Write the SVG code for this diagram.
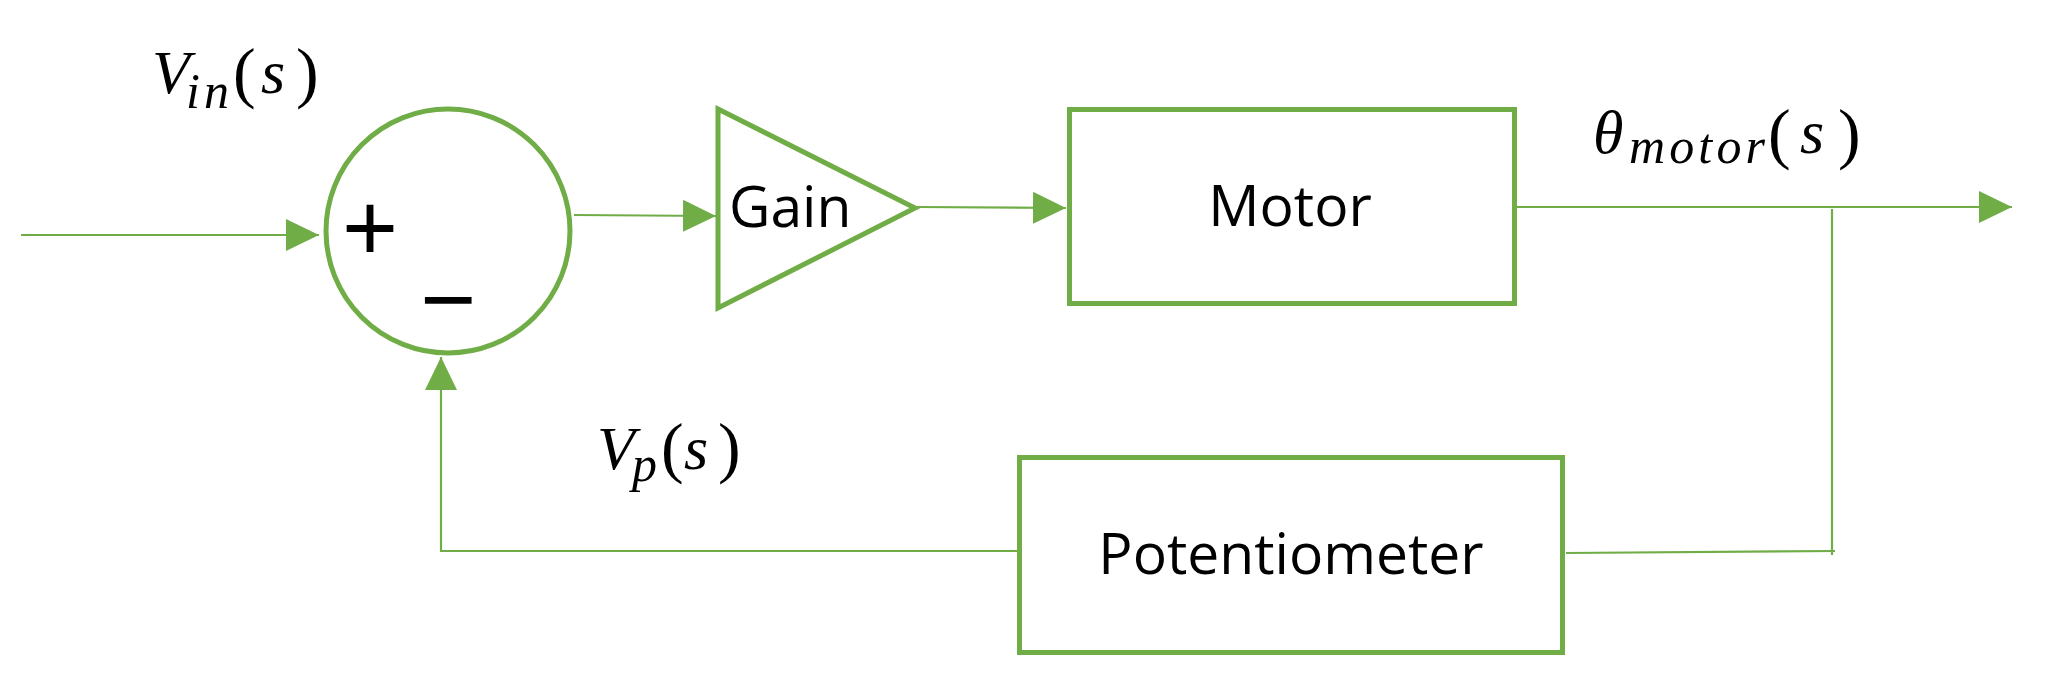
<svg xmlns="http://www.w3.org/2000/svg" width="2060" height="696" viewBox="0 0 2060 696">
<style>
.blk{fill:none;stroke:#70AD47;stroke-width:5}
.wire{fill:none;stroke:#70AD47;stroke-width:2.2}
.lbl{font-family:"Open Sans","Liberation Sans",sans-serif;font-size:57px;fill:#000}
.sign{font-family:"Liberation Sans",Arial,sans-serif;font-size:96px;fill:#000}
.math{font-family:"Liberation Serif","Times New Roman",serif;font-size:62px;fill:#000}
.it{font-style:italic}
.sub{font-style:italic;font-size:50px}
.par{font-size:68px}
</style>
<defs>
<marker id="arr" markerUnits="userSpaceOnUse" markerWidth="33" markerHeight="32" refX="33" refY="16" orient="auto" viewBox="0 0 33 32">
<path d="M0,0 L33,16 L0,32 Z" fill="#70AD47"/>
</marker>
</defs>
<rect width="2060" height="696" fill="#fff"/>
<g id="connectors">
<line class="wire" x1="21" y1="235" x2="319" y2="235" marker-end="url(#arr)"/>
<line class="wire" x1="574" y1="215" x2="716" y2="216" marker-end="url(#arr)"/>
<line class="wire" x1="917" y1="207" x2="1066" y2="208" marker-end="url(#arr)"/>
<line class="wire" x1="1516" y1="207" x2="2012" y2="207" marker-end="url(#arr)"/>
<line class="wire" x1="1832" y1="209" x2="1832" y2="555"/>
<line class="wire" x1="1835" y1="551" x2="1566" y2="553"/>
<polyline class="wire" points="1017,551 441,551 441,357" marker-end="url(#arr)"/>
</g>
<g id="sum">
<circle class="blk" cx="448" cy="231" r="122"/>
<text class="sign" x="342" y="261">+</text>
<text class="sign" x="420" y="332">−</text>
</g>
<g id="gain">
<polygon class="blk" points="718,109 915,208 718,308"/>
<text class="lbl" x="729" y="227">Gain</text>
</g>
<g id="motor">
<rect class="blk" x="1069.5" y="109.5" width="445" height="194"/>
<text class="lbl" x="1290" y="226" text-anchor="middle">Motor</text>
</g>
<g id="potentiometer">
<rect class="blk" x="1019.5" y="457.5" width="543" height="195"/>
<text class="lbl" x="1291" y="574" text-anchor="middle">Potentiometer</text>
</g>
<g id="labels">
<text class="math"><tspan class="it" x="152" y="93">V</tspan><tspan class="sub" x="186" y="108" textLength="43" lengthAdjust="spacing">in</tspan><tspan class="par" x="233" y="95">(</tspan><tspan class="it" x="261" y="93">s</tspan><tspan class="par" x="296" y="95">)</tspan></text>
<text class="math"><tspan class="it" x="1593" y="153">θ</tspan><tspan class="sub" x="1629" y="163" textLength="136" lengthAdjust="spacing">motor</tspan><tspan class="par" x="1768" y="156">(</tspan><tspan class="it" x="1800" y="153">s</tspan><tspan class="par" x="1838" y="156">)</tspan></text>
<text class="math"><tspan class="it" x="597" y="469">V</tspan><tspan class="sub" x="632" y="481">p</tspan><tspan class="par" x="661" y="470">(</tspan><tspan class="it" x="684" y="469">s</tspan><tspan class="par" x="718" y="470">)</tspan></text>
</g>
</svg>
